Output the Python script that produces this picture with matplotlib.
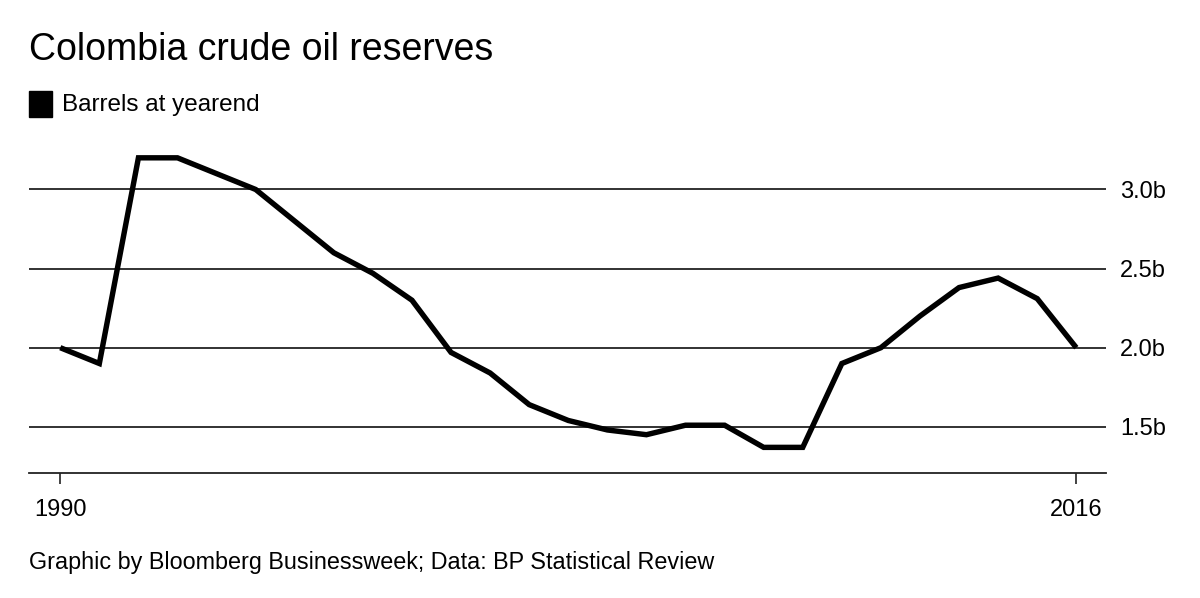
import matplotlib.pyplot as plt
from matplotlib.patches import Rectangle

plt.rcParams['font.family'] = ['Liberation Sans', 'DejaVu Sans']

# Colombia crude oil reserves, billions of barrels at yearend
years = list(range(1990, 2017))
reserves = [2.00, 1.90, 3.20, 3.20, 3.10, 3.00, 2.80, 2.60, 2.47, 2.30,
            1.97, 1.84, 1.64, 1.54, 1.48, 1.45, 1.51, 1.51, 1.37, 1.37,
            1.90, 2.00, 2.20, 2.38, 2.44, 2.31, 2.00]
y_ticks = [1.5, 2.0, 2.5, 3.0]
y_labels = ["1.5b", "2.0b", "2.5b", "3.0b"]
x_ticks = [1990, 2016]

fig = plt.figure(figsize=(12, 5.98), dpi=100)
ax = fig.add_axes([29 / 1200, 1 - 473 / 598, (1106 - 29) / 1200, (473 - 142) / 598])

ax.plot(years, reserves, color='black', lw=3.9, solid_joinstyle='miter',
        solid_capstyle='butt', zorder=3)

for v in y_ticks:
    ax.axhline(v, color='#222222', lw=1.3, zorder=1)

ax.set_xlim(1989.2, 2016.76)
ax.set_ylim(1.208, 3.30)

for s in ['top', 'left', 'right']:
    ax.spines[s].set_visible(False)
ax.spines['bottom'].set_color('#222222')
ax.spines['bottom'].set_linewidth(1.3)

ax.set_yticks(y_ticks)
ax.set_yticklabels(y_labels)
ax.yaxis.tick_right()
ax.tick_params(axis='y', length=0, pad=10, labelsize=17)
ax.set_xticks(x_ticks)
ax.set_xticklabels([str(x) for x in x_ticks])
ax.tick_params(axis='x', direction='out', length=8, width=1.2, color='#222222',
               pad=11, labelsize=17)

fig.text(29 / 1200, 1 - 50 / 598, "Colombia crude oil reserves", fontsize=27,
         va='center', ha='left')
fig.patches.append(Rectangle((29 / 1200, 1 - 117 / 598), 23 / 1200, 26 / 598,
                             transform=fig.transFigure, color='black'))
fig.text(62 / 1200, 1 - 105 / 598, "Barrels at yearend", fontsize=17.5,
         va='center', ha='left')
fig.text(29 / 1200, 1 - 563 / 598,
         "Graphic by Bloomberg Businessweek; Data: BP Statistical Review",
         fontsize=16.8, va='center', ha='left')

fig.savefig('out.png', dpi=100)
